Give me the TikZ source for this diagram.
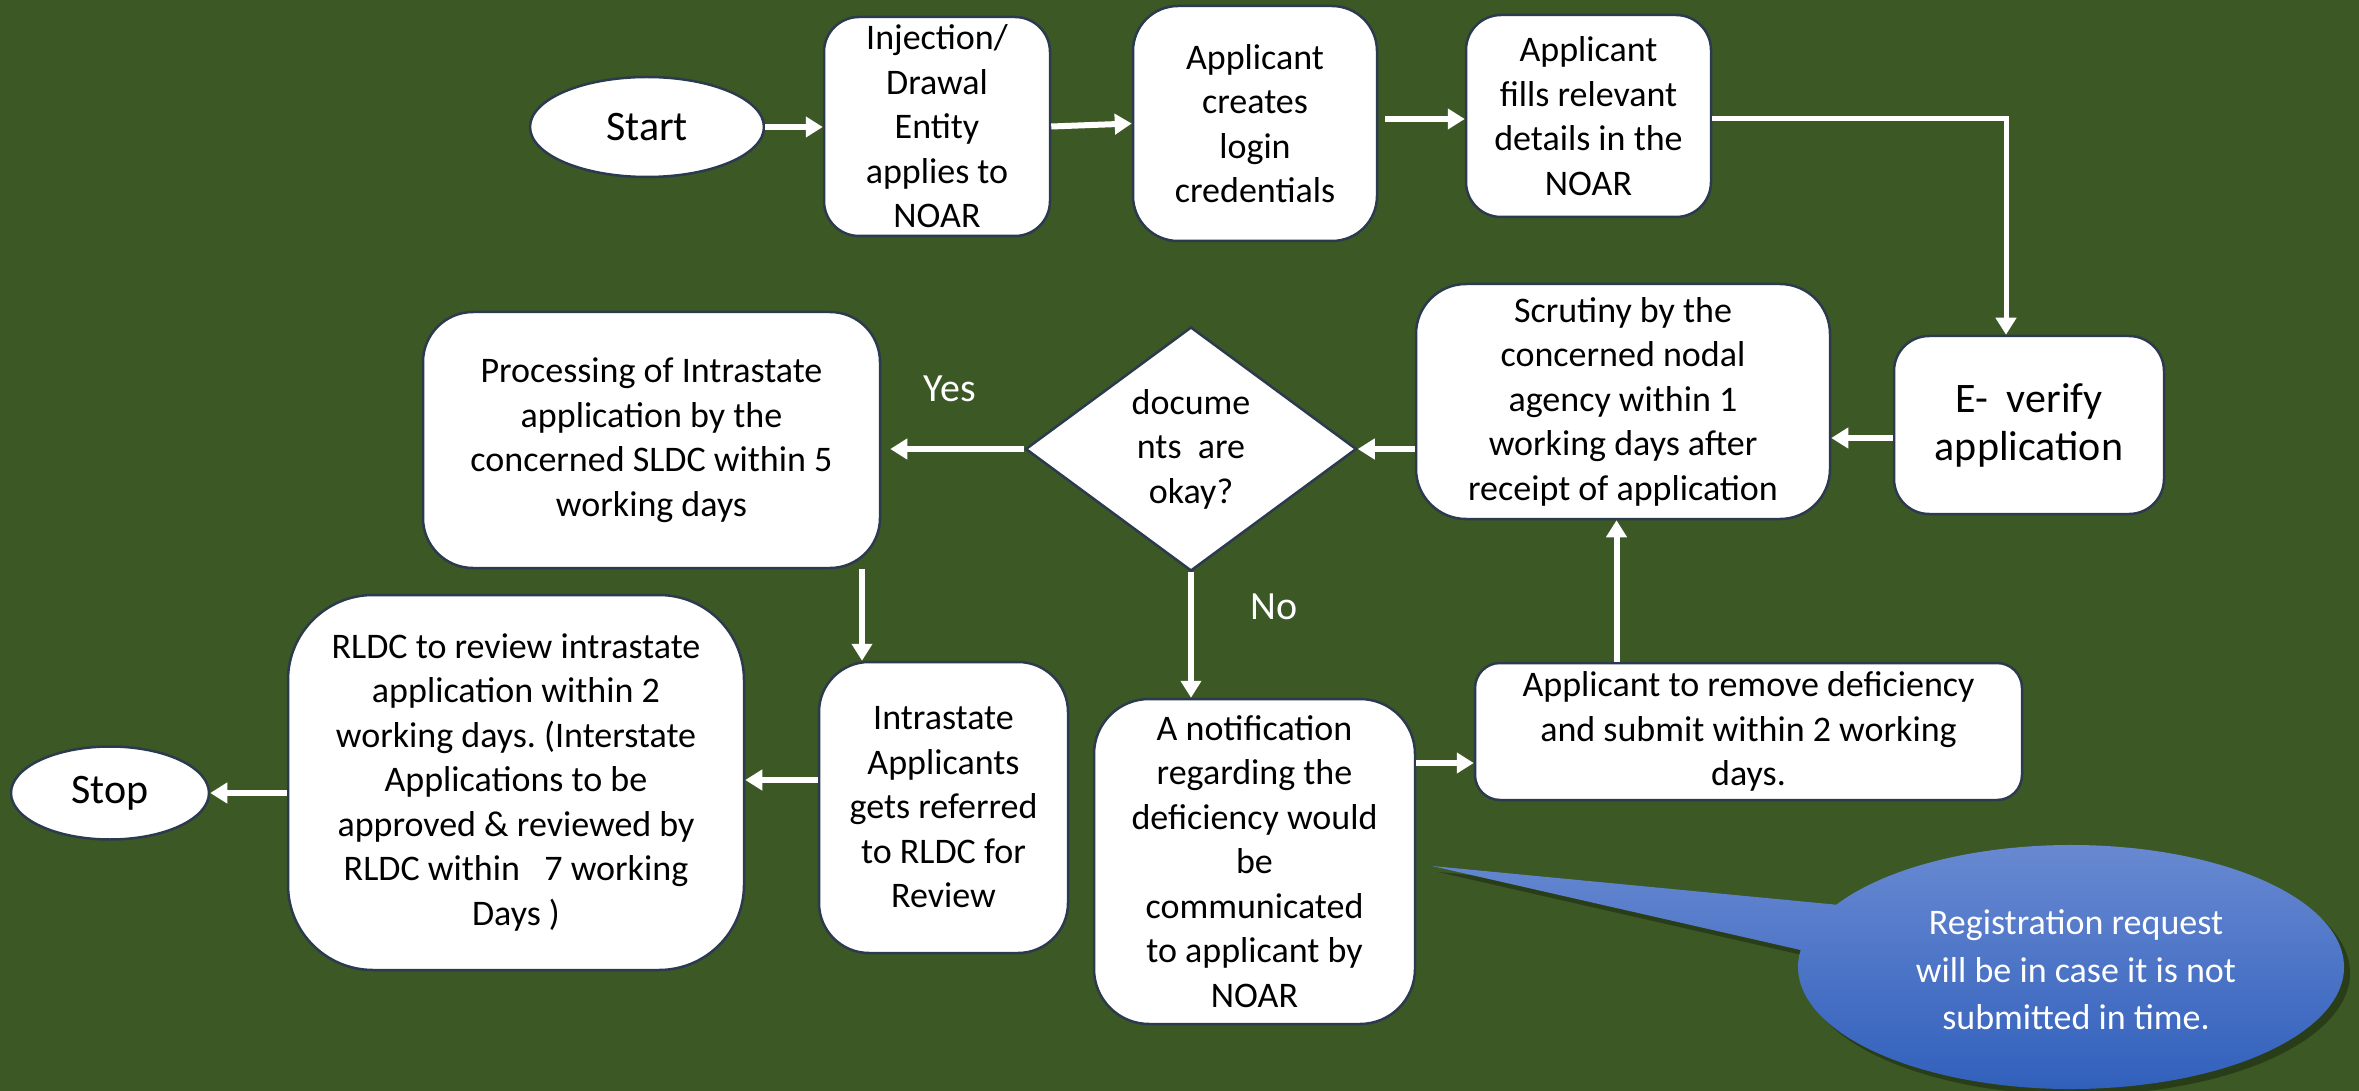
\documentclass[tikz,border=0pt]{standalone}
\usepackage{fontspec}
\setmainfont{Carlito}
\usetikzlibrary{shapes.geometric,arrows.meta,calc}
\definecolor{bg}{RGB}{59,88,37}
\definecolor{outl}{RGB}{44,58,78}
\definecolor{calltop}{RGB}{108,140,211}
\definecolor{callbot}{RGB}{45,93,186}
\newcommand\myboxfont{\fontsize{36}{44.5}\selectfont}
\newcommand\mybigfont{\fontsize{42}{48}\selectfont}
\newcommand\mylabfont{\fontsize{40}{48}\selectfont}
\newcommand\mycallfont{\fontsize{36}{47.5}\selectfont}
\frenchspacing
\begin{document}
\begin{tikzpicture}[x=1pt,y=-1pt,
  box/.style={draw=outl, fill=white, line width=2.5pt, align=center, inner sep=0pt, font=\myboxfont, text=black},
  oval/.style={box, ellipse, font=\mybigfont},
  arr/.style={draw=white, line width=6pt, -{Triangle[width=20pt,length=17pt]}},
  lab/.style={text=white, font=\mylabfont, inner sep=0pt},
]
\useasboundingbox (0,0) rectangle (2359,1091);
\fill[bg] (0,0) rectangle (2359,1091);

% nodes
\node[oval, minimum width=234pt, minimum height=100pt] (start) at (647,127) {Start};
\node[box, rounded corners=35pt, minimum width=226pt, minimum height=219pt] (inj) at (937,126.5) {Injection/\\Drawal\\Entity\\applies to\\NOAR};
\node[box, rounded corners=45pt, minimum width=244pt, minimum height=235pt] (cre) at (1255,123.5) {Applicant\\creates\\login\\credentials};
\node[box, rounded corners=35pt, minimum width=245pt, minimum height=202pt] (fil) at (1588.5,116) {Applicant\\fills relevant\\details in the\\NOAR};
\node[box, rounded corners=35pt, minimum width=270pt, minimum height=178pt, font=\mybigfont] (ver) at (2029,425) {E-\ \ verify\\application};
\node[box, rounded corners=50pt, minimum width=414pt, minimum height=235pt] (scr) at (1623,401.5) {Scrutiny by the\\concerned nodal\\agency within 1\\working days after\\receipt of application};
\node[box, diamond, minimum width=331pt, minimum height=244pt] (dia) at (1191,449) {docume\\nts\ \ are\\okay?};
\node[box, rounded corners=50pt, minimum width=457pt, minimum height=256pt] (pro) at (651.5,440) {Processing of Intrastate\\application by the\\concerned SLDC within 5\\working days};
\node[box, rounded corners=55pt, minimum width=321pt, minimum height=325pt] (notif) at (1254.5,861.5) {A notification\\regarding the\\deficiency would\\be\\communicated\\to applicant by\\NOAR};
\node[box, rounded corners=25pt, minimum width=547pt, minimum height=137pt] (rem) at (1748.5,731.5) {Applicant to remove deficiency\\and submit within 2 working\\days.};
\node[box, rounded corners=50pt, minimum width=249pt, minimum height=291pt] (intra) at (943.5,807.5) {Intrastate\\Applicants\\gets referred\\to RLDC for\\Review};
\node[box, rounded corners=85pt, minimum width=456pt, minimum height=375pt] (rld) at (516,782.5) {RLDC to review intrastate\\application within 2\\working days. (Interstate\\Applications to be\\approved \& reviewed by\\RLDC within\ \ \ 7 working\\Days )};
\node[oval, minimum width=198pt, minimum height=93pt] (stp) at (110,793) {Stop};

\node[lab] (yes) at (950,389) {Yes};
\node[lab] (no) at (1274,607) {No};

% connectors
\draw[arr] (start.east) -- (start.east -| inj.west);
\draw[arr] (inj.east) -- (cre.west);
\draw[arr, shorten <=7pt] ([yshift=4.5pt]cre.east) -- ([yshift=4.5pt]cre.east -| fil.west);
\draw[arr, line width=5pt] ([yshift=-3pt]fil.east) -| ([xshift=-23pt]ver.north);
\draw[arr] ([yshift=-13pt]ver.west) -- ([yshift=-13pt]ver.west -| scr.east);
\draw[arr] (dia.east -| scr.west) -- (dia.east);
\draw[arr, shorten >=9pt] (dia.west) -- (dia.west -| pro.east);
\draw[arr] (dia.south) -- (dia.south |- notif.north);
\draw[arr] ([yshift=-31.5pt]rem.west -| notif.east) -- ([yshift=-31.5pt]rem.west);
\draw[arr] ([xshift=-132pt]rem.north) -- ([xshift=-132pt]rem.north |- scr.south);
\draw[arr] ([xshift=-81.5pt]intra.north |- pro.south) -- ([xshift=-81.5pt]intra.north);
\draw[arr] ([yshift=27.5pt]intra.west) -- ([yshift=27.5pt]intra.west -| rld.east);
\draw[arr] (stp.east -| rld.west) -- (stp.east);

% callout
\coordinate (cc) at (2071,967);
\coordinate (tip) at (1432,866);
\coordinate (ccS) at (2077,973);
\coordinate (tipS) at (1438,872);
\fill[black, opacity=0.3] (tipS) -- ($(ccS)+(149.3:273pt and 122pt)$) arc[start angle=149.3, end angle=-188, x radius=273pt, y radius=122pt] -- cycle;
\shade[top color=calltop, bottom color=callbot] (tip) -- ($(cc)+(149.3:273pt and 122pt)$) arc[start angle=149.3, end angle=-188, x radius=273pt, y radius=122pt] -- cycle;
\node[text=white, font=\mycallfont, align=center, inner sep=0pt] (calltext) at (2076,970) {Registration request\\will be in case it is not\\submitted in time.};
\end{tikzpicture}
\end{document}
